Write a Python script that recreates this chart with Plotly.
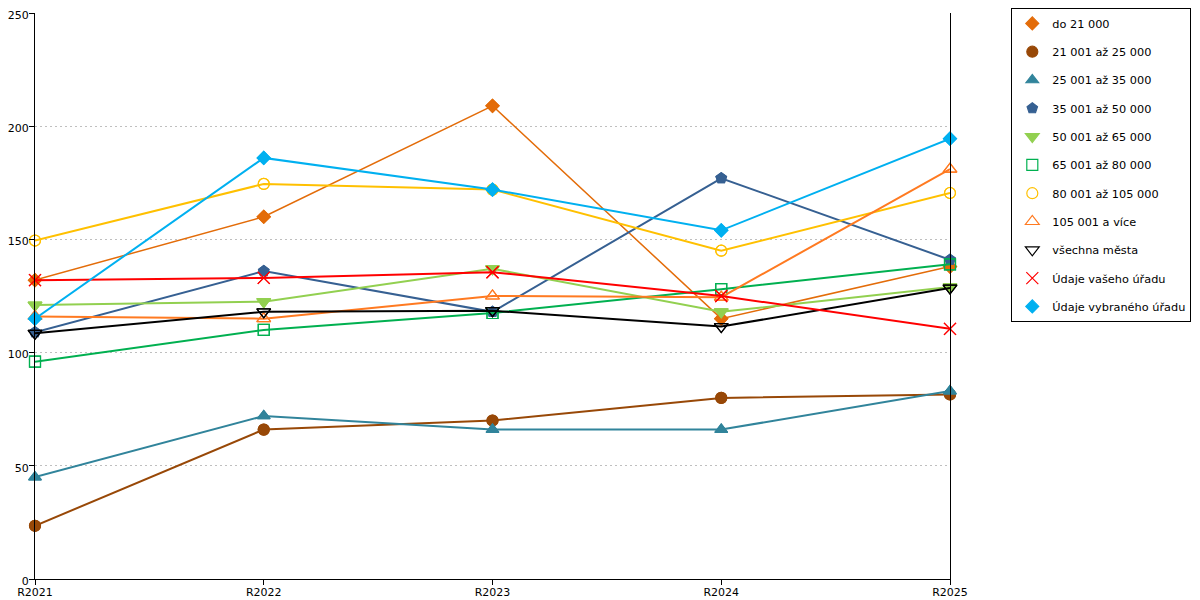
import plotly.graph_objects as go

categories = ["R2021", "R2022", "R2023", "R2024", "R2025"]

names = [
    "do 21 000",
    "21 001 až 25 000",
    "25 001 až 35 000",
    "35 001 až 50 000",
    "50 001 až 65 000",
    "65 001 až 80 000",
    "80 001 až 105 000",
    "105 001 a více",
    "všechna města",
    "Údaje vašeho úřadu",
    "Údaje vybraného úřadu",
]

do_21000 = [132, 160, 209, 115, 138]
s21_25 = [23.5, 66, 70, 80, 81.5]
s25_35 = [45, 72, 66, 66, 83]
s35_50 = [109, 136, 118, 177, 141]
s50_65 = [121, 122.5, 137, 118, 129]
s65_80 = [96, 110, 117.5, 128, 139]
s80_105 = [149.5, 174.5, 172, 145, 170.5]
s105_plus = [116, 115, 125, 124.5, 181]
vsechna_mesta = [108.5, 118, 118.5, 111.5, 128.5]
vas_urad = [132, 133, 135.5, 125, 110.5]
vybrany_urad = [115, 186, 172, 154, 194.5]

series = [do_21000, s21_25, s25_35, s35_50, s50_65, s65_80,
          s80_105, s105_plus, vsechna_mesta, vas_urad, vybrany_urad]

colors = ["#E36C09", "#984807", "#31849B", "#366092", "#92D050", "#00B050",
          "#FFC000", "#FF7A21", "#000000", "#FF0000", "#00B0F0"]
symbols = ["diamond", "circle", "triangle-up", "pentagon", "triangle-down",
           "square-open", "circle-open", "triangle-up-open", "triangle-down-open",
           "x-thin-open", "diamond"]
sizes = [10, 11, 11, 11, 12, 11, 11, 12, 12, 12, 10]
widths = [1.5, 2, 2, 2, 2, 2, 2, 2, 2, 2, 2]

FONT = "DejaVu Sans"

fig = go.Figure()
for i, (nm, vals) in enumerate(zip(names, series)):
    mk = dict(symbol=symbols[i], size=sizes[i], color=colors[i],
              line=dict(color=colors[i], width=1.2))
    fig.add_trace(go.Scatter(
        x=categories, y=vals, mode="lines+markers", name=nm,
        line=dict(color=colors[i], width=widths[i]), marker=mk,
        legendgroup=nm, showlegend=False, cliponaxis=False))
    fig.add_trace(go.Scatter(
        x=categories, y=vals, mode="markers", name=nm,
        marker=mk, legendgroup=nm, showlegend=True, cliponaxis=False))

# page body has an 8px margin, so the figure is 1192x592 and margins are shifted
fig.update_layout(
    template="none",
    width=1192, height=592,
    margin=dict(l=27, r=250, t=5, b=21, autoexpand=False),
    paper_bgcolor="white", plot_bgcolor="white",
    font=dict(family=FONT, size=11, color="#000000"),
    showlegend=True,
    legend=dict(
        x=1.067, xanchor="left", y=1.009, yanchor="top",
        bordercolor="#000000", borderwidth=1, bgcolor="white",
        font=dict(family=FONT, size=11.3, color="#000000"),
        tracegroupgap=9.3, traceorder="grouped", maxheight=500,
    ),
    xaxis=dict(
        type="category", categoryarray=categories, range=[0, 4],
        showgrid=False, zeroline=False, automargin=False,
        showline=True, linecolor="#000000", linewidth=1,
        ticks="outside", ticklen=5, tickcolor="#000000",
        ticklabelstandoff=-2, ticklabeloverflow="allow",
        tickfont=dict(family=FONT, size=11, color="#000000"),
    ),
    xaxis2=dict(
        type="category", categoryarray=categories, overlaying="x", matches="x",
        side="bottom", tickson="boundaries", ticks="outside", ticklen=6,
        tickcolor="#000000", showticklabels=False, showgrid=False,
        showline=False, zeroline=False, automargin=False,
    ),
    yaxis=dict(
        range=[0, 250], tickvals=[0, 50, 100, 150, 200, 250],
        showgrid=True, gridcolor="#BFBFBF", griddash="2px,3px", gridwidth=1,
        zeroline=False, showline=True, mirror=True, linecolor="#000000",
        linewidth=1, ticks="outside", ticklen=5, tickcolor="#000000",
        automargin=False, ticklabeloverflow="allow", ticklabelshift=2,
        ticklabelstandoff=-2,
        tickfont=dict(family=FONT, size=11, color="#000000"),
    ),
)

fig.write_html("out.html")
